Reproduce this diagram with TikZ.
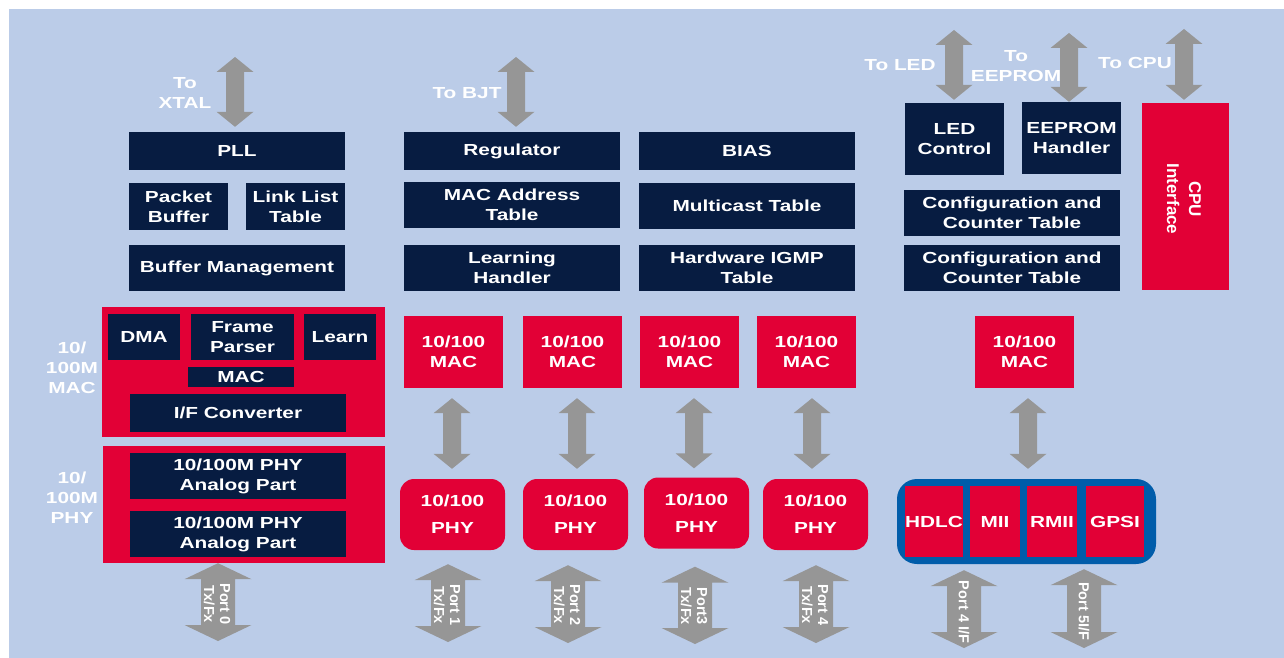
\documentclass[tikz,border=0pt]{standalone}
\usepackage{fontspec}
\setmainfont{Liberation Sans}[FakeStretch=1.3]
\newfontfamily\rotfont{Liberation Sans}
\usetikzlibrary{calc}
\definecolor{bgblue}{RGB}{187,204,232}
\definecolor{navy}{RGB}{7,28,65}
\definecolor{chipred}{RGB}{226,0,54}
\definecolor{agray}{RGB}{150,150,150}
\definecolor{ifblue}{RGB}{0,92,170}
% double block arrow: #1 top end, #2 bottom end, #3 half shaft, #4 half head, #5 head length
\newcommand{\dbar}[5]{\fill[agray] let \p1=(#1), \p2=(#2) in
  (\x1,\y1) -- (\x1+#4pt,\y1-#5pt) -- (\x1+#3pt,\y1-#5pt) -- (\x1+#3pt,\y2+#5pt)
  -- (\x1+#4pt,\y2+#5pt) -- (\x1,\y2) -- (\x1-#4pt,\y2+#5pt) -- (\x1-#3pt,\y2+#5pt)
  -- (\x1-#3pt,\y1-#5pt) -- (\x1-#4pt,\y1-#5pt) -- cycle;}
\begin{document}
\begin{tikzpicture}[x=1pt,y=-1pt,
  lbl/.style={font=\fontsize{16}{20}\selectfont\bfseries, text=white, align=center, inner sep=0pt},
  nb/.style={lbl, fill=navy},
  rb/.style={lbl, fill=chipred},
  rphy/.style={rb, rounded corners=14pt},
  rtxt/.style={font=\rotfont\fontsize{14.5}{16}\selectfont\bfseries, text=white, align=center, inner sep=0pt, rotate=-90},
  ]
\useasboundingbox (0,0) rectangle (1284,658);
\fill[white] (0,0) rectangle (1284,658);
\fill[bgblue] (9,9) rectangle (1284,658);

% ---- top navy blocks
\node[nb, minimum width=216, minimum height=38] (pll) at (237,151) {PLL};
\node[nb, minimum width=99, minimum height=47] (pbuf) at (178.5,206.5) {Packet\\Buffer};
\node[nb, minimum width=99, minimum height=47] (llt) at (295.5,206.5) {Link List\\Table};
\node[nb, minimum width=216, minimum height=46] (bufm) at (237,268) {Buffer Management};

\node[nb, minimum width=216, minimum height=38] (reg) at (512,151) {Regulator};
\node[nb, minimum width=216, minimum height=46] (maddr) at (512,205) {MAC Address\\Table};
\node[nb, minimum width=216, minimum height=46] (learnh) at (512,268) {Learning\\Handler};

\node[nb, minimum width=216, minimum height=38] (bias) at (747,151) {BIAS};
\node[nb, minimum width=216, minimum height=46] (mcast) at (747,206) {Multicast Table};
\node[nb, minimum width=216, minimum height=46] (igmp) at (747,268) {Hardware IGMP\\Table};

\node[nb, minimum width=99, minimum height=72] (led) at (954.5,139) {LED\\Control};
\node[nb, minimum width=99, minimum height=72] (eeh) at (1071.5,138) {EEPROM\\Handler};
\node[nb, minimum width=216, minimum height=46] (cfg1) at (1012,213) {Configuration and\\Counter Table};
\node[nb, minimum width=216, minimum height=46] (cfg2) at (1012,268) {Configuration and\\Counter Table};

\node[rb, minimum width=87, minimum height=187] (cpu) at (1185.5,196.5) {};
\node[rtxt, font=\rotfont\fontsize{17}{22}\selectfont\bfseries] (cputxt) at (1184,199) {CPU\\Interface};

% ---- left MAC / PHY blocks
\node[rb, minimum width=283, minimum height=130] (macblk) at (243.5,372) {};
\node[nb, minimum width=72, minimum height=46] (dma) at (144,337) {DMA};
\node[nb, minimum width=103, minimum height=46] (fp) at (242.5,337) {Frame\\Parser};
\node[nb, minimum width=72, minimum height=46] (learn) at (340,337) {Learn};
\node[nb, minimum width=106, minimum height=20] (mac0) at (241,377) {MAC};
\node[nb, minimum width=216, minimum height=38] (ifc) at (238,413) {I/F Converter};

\node[rb, minimum width=282, minimum height=117] (phyblk) at (244,504.5) {};
\node[nb, minimum width=216, minimum height=46] (pa1) at (238,476) {10/100M PHY\\Analog Part};
\node[nb, minimum width=216, minimum height=46] (pa2) at (238,534) {10/100M PHY\\Analog Part};

\node[lbl] (maclbl) at (72,368) {10/\\100M\\MAC};
\node[lbl] (phylbl) at (72,498) {10/\\100M\\PHY};

% ---- MAC row
\node[rb, minimum width=99, minimum height=72] (mac1) at (453.5,352) {10/100\\MAC};
\node[rb, minimum width=99, minimum height=72] (mac2) at (572.5,352) {10/100\\MAC};
\node[rb, minimum width=99, minimum height=72] (mac3) at (689.5,352) {10/100\\MAC};
\node[rb, minimum width=99, minimum height=72] (mac4) at (806.5,352) {10/100\\MAC};
\node[rb, minimum width=99, minimum height=72] (mac5) at (1024.5,352) {10/100\\MAC};

% ---- PHY row
\node[rphy, minimum width=105, minimum height=71, font=\fontsize{16}{27}\selectfont\bfseries] (phy1) at (452.5,514.5) {10/100\\PHY};
\node[rphy, minimum width=105, minimum height=71, font=\fontsize{16}{27}\selectfont\bfseries] (phy2) at (575.5,514.5) {10/100\\PHY};
\node[rphy, minimum width=105, minimum height=71, font=\fontsize{16}{27}\selectfont\bfseries] (phy3) at (696.5,513) {10/100\\PHY};
\node[rphy, minimum width=105, minimum height=71, font=\fontsize{16}{27}\selectfont\bfseries] (phy4) at (815.5,514.5) {10/100\\PHY};

% ---- interface block
\node[fill=ifblue, rounded corners=20pt, minimum width=259, minimum height=85, inner sep=0pt] (iface) at (1026.5,521.5) {};
\node[rb, minimum width=58, minimum height=71] (hdlc) at (934,521.5) {HDLC};
\node[rb, minimum width=50, minimum height=71] (mii) at (995,521.5) {MII};
\node[rb, minimum width=50, minimum height=71] (rmii) at (1052,521.5) {RMII};
\node[rb, minimum width=58, minimum height=71] (gpsi) at (1115,521.5) {GPSI};

% ---- free ends of arrows
\coordinate (xtal) at (235,57);
\coordinate (bjt) at (516,57);
\coordinate (ledt) at (954,30);
\coordinate (eet) at (1069,33);
\coordinate (cput) at (1184,29);
\coordinate (p0b) at (218,641);
\coordinate (p1b) at (448,642);
\coordinate (p2b) at (568,643);
\coordinate (p3b) at (695,644);
\coordinate (p4b) at (816,643);
\coordinate (p4ib) at (964,648);
\coordinate (p5ib) at (1084,648);

% ---- small double arrows
\dbar{xtal}{$(pll.north)+(0,-5)$}{9}{18.5}{15}
\dbar{bjt}{$(reg.north)+(0,-5)$}{9}{18.5}{15}
\dbar{ledt}{$(led.north)+(0,-3)$}{9}{18.5}{15}
\dbar{eet}{$(eeh.north)+(0,0)$}{9}{18.5}{15}
\dbar{cput}{$(cpu.north)+(0,-3)$}{9}{18.5}{15}
\dbar{$(mac1.south)+(-1.5,10)$}{$(phy1.north)+(0,-10)$}{9}{18.5}{15}
\dbar{$(mac2.south)+(4.5,10)$}{$(phy2.north)+(0,-10)$}{9}{18.5}{15}
\dbar{$(mac3.south)+(4.5,10)$}{$(phy3.north)+(0,-9)$}{9}{18.5}{15}
\dbar{$(mac4.south)+(5.5,10)$}{$(phy4.north)+(0,-10)$}{9}{18.5}{15}
\dbar{$(mac5.south)+(3.5,10)$}{$(iface.north)+(0,-10)$}{9}{18.5}{15}

% ---- large double arrows
\dbar{$(phyblk.south)+(-26,0)$}{p0b}{17}{33.5}{16}
\dbar{$(phy1.south)+(-4.5,14)$}{p1b}{17}{33.5}{16}
\dbar{$(phy2.south)+(-7.5,15)$}{p2b}{17}{33.5}{16}
\dbar{$(phy3.south)+(-1.5,18)$}{p3b}{17}{33.5}{16}
\dbar{$(phy4.south)+(0.5,15)$}{p4b}{17}{33.5}{16}
\dbar{$(iface.south)+(-62.5,6)$}{p4ib}{17}{33.5}{16}
\dbar{$(iface.south)+(57.5,5)$}{p5ib}{17}{33.5}{16}

% ---- arrow labels
\node[lbl] (txtal) at (185,93) {To\\XTAL};
\node[lbl] (tbjt) at (467,93) {To BJT};
\node[lbl] (tled) at (900,65) {To LED};
\node[lbl] (teep) at (1016,66.5) {To\\EEPROM};
\node[lbl] (tcpu) at (1135,63) {To CPU};

\node[rtxt] (l0) at (217,604) {Port 0\\Tx/Fx};
\node[rtxt] (l1) at (447,605) {Port 1\\Tx/Fx};
\node[rtxt] (l2) at (567,605) {Port 2\\Tx/Fx};
\node[rtxt] (l3) at (694,606) {Port3\\Tx/Fx};
\node[rtxt] (l4) at (815,605) {Port 4\\Tx/Fx};
\node[rtxt] (l5) at (964,612) {Port 4 I/F};
\node[rtxt] (l6) at (1084,611) {Port 5I/F};
\end{tikzpicture}
\end{document}
